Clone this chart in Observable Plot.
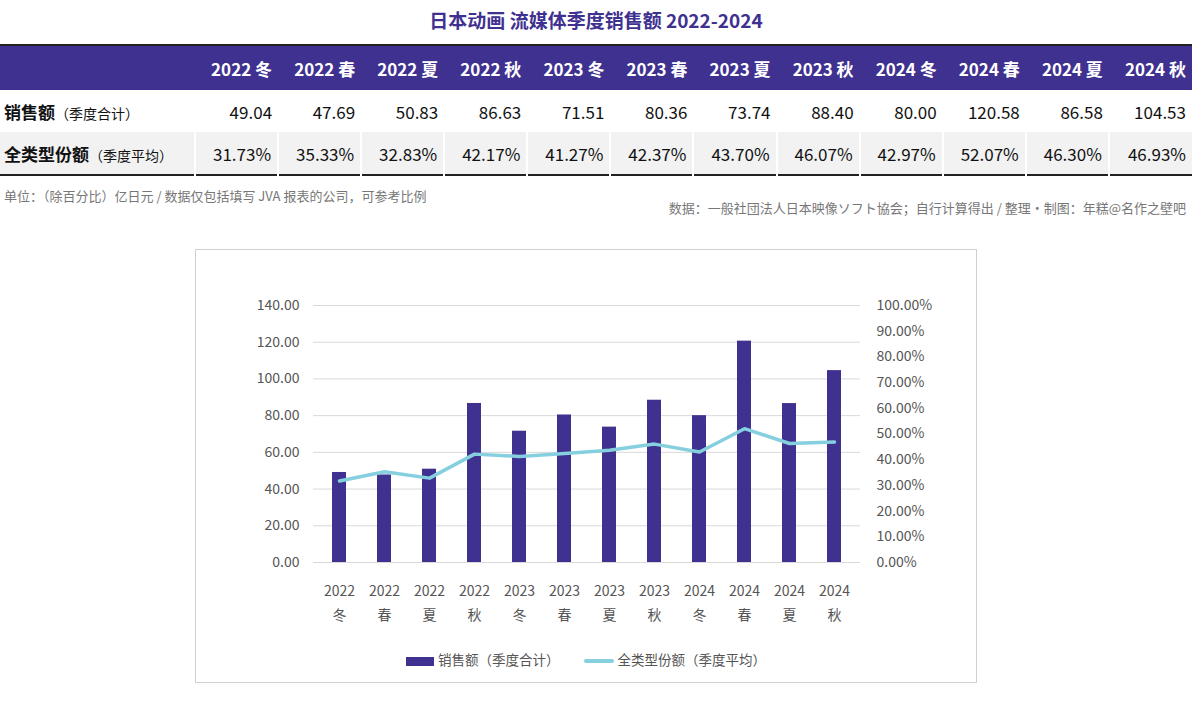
<!DOCTYPE html>
<html><head><meta charset="utf-8">
<script src="https://cdn.jsdelivr.net/npm/d3@7"></script>
<script src="https://cdn.jsdelivr.net/npm/@observablehq/plot@0.6"></script>
<style>
body{margin:0;width:1192px;height:704px;background:#fff;font-family:"Noto Sans CJK SC","Noto Sans",sans-serif;position:relative;overflow:hidden}
#title{position:absolute;top:6px;left:0;width:1192px;text-align:center;color:#3f3190;font-weight:bold;font-size:19px}
table{position:absolute;top:44px;left:0;width:1192px;border-collapse:collapse;border-top:2px solid #222;border-bottom:2px solid #222}
th{background:#3f3190;color:#fff;font-size:17px;font-weight:bold;height:44px;text-align:right;padding:0 6px}
td{font-size:17px;height:42px;text-align:right;padding:0 6px;color:#111}
td.l{text-align:left;font-weight:bold;padding-left:4px;white-space:nowrap}
td.l small{font-weight:normal;font-size:14px}
tr.g td{background:#f2f2f2;border-left:2px solid #fff}
tr.g td.l{border-left:none}
.note{position:absolute;font-size:13px;color:#777}
#box{position:absolute;left:195px;top:249px;width:780px;height:432px;border:1px solid #d0d0d0}
#legend{position:absolute;left:0;top:399px;width:780px;text-align:center;font-size:13.5px;color:#555}
.sw{display:inline-block;vertical-align:middle;margin-right:4px}
</style></head><body>
<div id="title">日本动画 流媒体季度销售额 2022-2024</div>
<table id="tbl"></table>
<div class="note" style="left:4px;top:186px">单位：（除百分比）亿日元 / 数据仅包括填写 JVA 报表的公司，可参考比例</div>
<div class="note" style="right:6px;top:198px">数据：一般社団法人日本映像ソフト協会；自行计算得出 / 整理・制图：年糕@名作之壁吧</div>
<div id="box"><div id="chart"></div>
<div id="legend"><span class="sw" style="width:28px;height:9px;background:#3f3190"></span>销售额（季度合计）<span style="display:inline-block;width:24px"></span><span class="sw" style="width:30px;height:4px;background:#86cfdf;border-radius:2px"></span>全类型份额（季度平均）</div></div>
<script>
const years=["2022","2022","2022","2022","2023","2023","2023","2023","2024","2024","2024","2024"];
const seasons=["冬","春","夏","秋","冬","春","夏","秋","冬","春","夏","秋"];
const sales=[49.04,47.69,50.83,86.63,71.51,80.36,73.74,88.40,80.00,120.58,86.58,104.53];
const share=[31.73,35.33,32.83,42.17,41.27,42.37,43.70,46.07,42.97,52.07,46.30,46.93];
const cats=years.map((y,i)=>y+" "+seasons[i]);
let h="<tr><th style='width:183px'></th>"+cats.map(c=>`<th>${c}</th>`).join("")+"</tr>";
h+="<tr><td class='l'>销售额<small>（季度合计）</small></td>"+sales.map(v=>`<td>${v.toFixed(2)}</td>`).join("")+"</tr>";
h+="<tr class='g'><td class='l'>全类型份额<small>（季度平均）</small></td>"+share.map(v=>`<td>${v.toFixed(2)}%</td>`).join("")+"</tr>";
document.getElementById("tbl").innerHTML=h;
const data=cats.map((c,i)=>({c,s:sales[i],p:share[i]}));
const k=1.4;
const chart=Plot.plot({
 width:780,height:390,marginTop:55,marginBottom:78,marginLeft:117,marginRight:116,
 style:{fontFamily:"'Noto Sans CJK SC',sans-serif",fontSize:"14px",color:"#555"},
 x:{domain:cats,paddingInner:0.7,paddingOuter:0.35,label:null},
 y:{domain:[0,140],label:null},
 marks:[
  Plot.gridY(d3.range(0,141,20),{stroke:"#d9d9d9",strokeOpacity:1}),
  Plot.barY(data,{x:"c",y:"s",fill:"#3f3190"}),
  Plot.line(data,{x:"c",y:d=>d.p*k,stroke:"#86cfdf",strokeWidth:3.5}),
  Plot.axisY(d3.range(0,141,20),{tickSize:0,tickPadding:14,tickFormat:d=>d.toFixed(2),fontSize:14,label:null}),
  Plot.axisY(d3.range(0,141,14),{anchor:"right",tickSize:0,tickPadding:16,tickFormat:d=>(d/k).toFixed(2)+"%",fontSize:14,label:null}),
  Plot.axisX({tickSize:0,tickPadding:16,tickFormat:c=>c.replace(" ","\n"),lineHeight:1.75,fontSize:14,label:null})
 ]});
document.getElementById("chart").append(chart);
</script></body></html>
